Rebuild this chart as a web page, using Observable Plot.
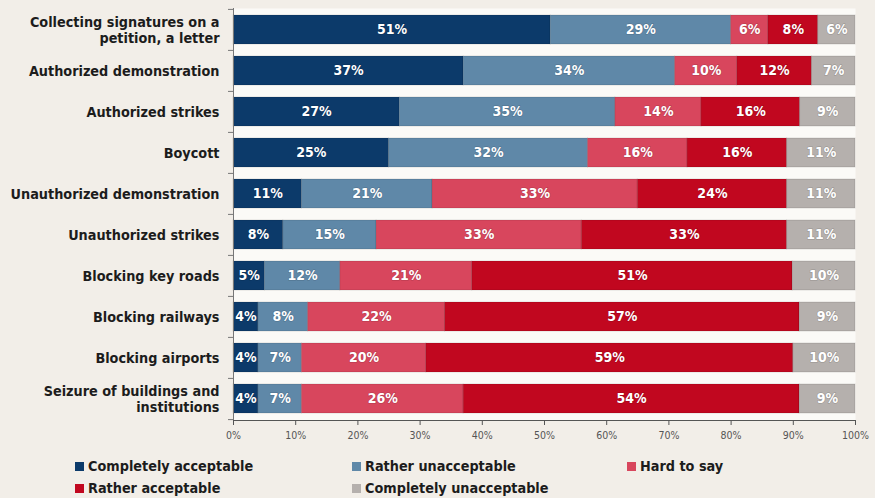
<!DOCTYPE html>
<html>
<head>
<meta charset="utf-8">
<script src="https://cdn.jsdelivr.net/npm/d3@7"></script>
<script src="https://cdn.jsdelivr.net/npm/@observablehq/plot@0.6"></script>
<style>
  html, body { margin: 0; padding: 0; background: #f2eee8; }
  #wrap { position: relative; width: 875px; height: 498px; background: #f2eee8; overflow: hidden;
    font-family: "DejaVu Sans Condensed", "DejaVu Sans", sans-serif; font-stretch: condensed; }
  #chart svg { display: block; }
  .legend { position: absolute; left: 0; top: 450px; width: 875px; height: 48px; }
  .item { position: absolute; font-weight: bold; font-size: 14.3px; color: #1c1c1c; white-space: nowrap; line-height: 18px; }
  .sw { display: inline-block; width: 9px; height: 9px; margin-right: 4px; vertical-align: 0px; }
</style>
</head>
<body>
<div id="wrap">
  <div id="chart"></div>
  <div class="legend" id="legend"></div>
</div>
<script>
const categories = [
  "Collecting signatures on a\npetition, a letter",
  "Authorized demonstration",
  "Authorized strikes",
  "Boycott",
  "Unauthorized demonstration",
  "Unauthorized strikes",
  "Blocking key roads",
  "Blocking railways",
  "Blocking airports",
  "Seizure of buildings and\ninstitutions"
];
const series = ["Completely acceptable", "Rather unacceptable", "Hard to say", "Rather acceptable", "Completely unacceptable"];
const colors = ["#0c3a6a", "#5f88a8", "#d8465d", "#c1071f", "#b5b0ad"];

const completelyAcceptable   = [51, 37, 27, 25, 11,  8,  5,  4,  4,  4];
const ratherUnacceptable     = [29, 34, 35, 32, 21, 15, 12,  8,  7,  7];
const hardToSay              = [ 6, 10, 14, 16, 33, 33, 21, 22, 20, 26];
const ratherAcceptable       = [ 8, 12, 16, 16, 24, 33, 51, 57, 59, 54];
const completelyUnacceptable = [ 6,  7,  9, 11, 11, 11, 10,  9, 10,  9];
const xTicks = [0, 10, 20, 30, 40, 50, 60, 70, 80, 90, 100];

const seriesValues = [completelyAcceptable, ratherUnacceptable, hardToSay, ratherAcceptable, completelyUnacceptable];
const table = [];
categories.forEach((cat, i) => {
  series.forEach((s, j) => table.push({cat, series: s, value: seriesValues[j][i]}));
});

const H = 450, MT = 8, MB = 30;
const step = (H - MT - MB) / categories.length;
const font = '"DejaVu Sans Condensed", "DejaVu Sans", sans-serif';

const chart = Plot.plot({
  width: 875,
  height: H,
  marginLeft: 233,
  marginRight: 20,
  marginTop: MT,
  marginBottom: MB,
  style: {background: "transparent", fontFamily: font, overflow: "visible"},
  x: {domain: [0, 100], percent: true},
  y: {domain: categories, padding: 0.3, paddingOuter: 0.15, label: null},
  color: {domain: series, range: colors},
  marks: [
    Plot.frame({fill: "#fbfaf7", stroke: null}),
    Plot.barX(table, Plot.stackX({
      x: "value", y: "cat", fill: "series", offset: "normalize", order: series,
      stroke: "#000", strokeOpacity: 0.12, strokeWidth: 1
    })),
    Plot.text(table, Plot.stackX({
      x: "value", y: "cat", z: "series", offset: "normalize", order: series,
      text: d => d.value + "%", fill: "white", fontWeight: "bold", fontSize: 14,
      stroke: "#000", strokeOpacity: 0.15, strokeWidth: 1.5
    })),
    Plot.frame({anchor: "bottom", stroke: "#555"}),
    Plot.frame({anchor: "left", stroke: "#777"}),
    Plot.axisX({ticks: xTicks, tickFormat: d => d + "%", tickSize: 5, tickPadding: 6, label: null, fontSize: 10.5, color: "#555"}),
    Plot.axisY({tickSize: 0, tickPadding: 14, label: null, fontSize: 14.3, fontWeight: "bold", fill: "#1c1c1c", lineHeight: 1.15}),
    Plot.axisY({tickSize: 5, text: null, dy: -step / 2, stroke: "#777"}),
    Plot.axisY({ticks: [categories[categories.length - 1]], tickSize: 5, text: null, dy: step / 2, stroke: "#777"})
  ]
});
document.getElementById("chart").appendChild(chart);

// Legend
const legendLayout = [
  {s: 0, left: 75, top: 7},
  {s: 1, left: 352, top: 7},
  {s: 2, left: 627, top: 7},
  {s: 3, left: 75, top: 29},
  {s: 4, left: 352, top: 29}
];
const legend = document.getElementById("legend");
legendLayout.forEach(({s, left, top}) => {
  const el = document.createElement("div");
  el.className = "item";
  el.style.left = left + "px";
  el.style.top = top + "px";
  const sw = document.createElement("span");
  sw.className = "sw";
  sw.style.background = colors[s];
  el.appendChild(sw);
  el.appendChild(document.createTextNode(series[s]));
  legend.appendChild(el);
});
</script>
</body>
</html>
